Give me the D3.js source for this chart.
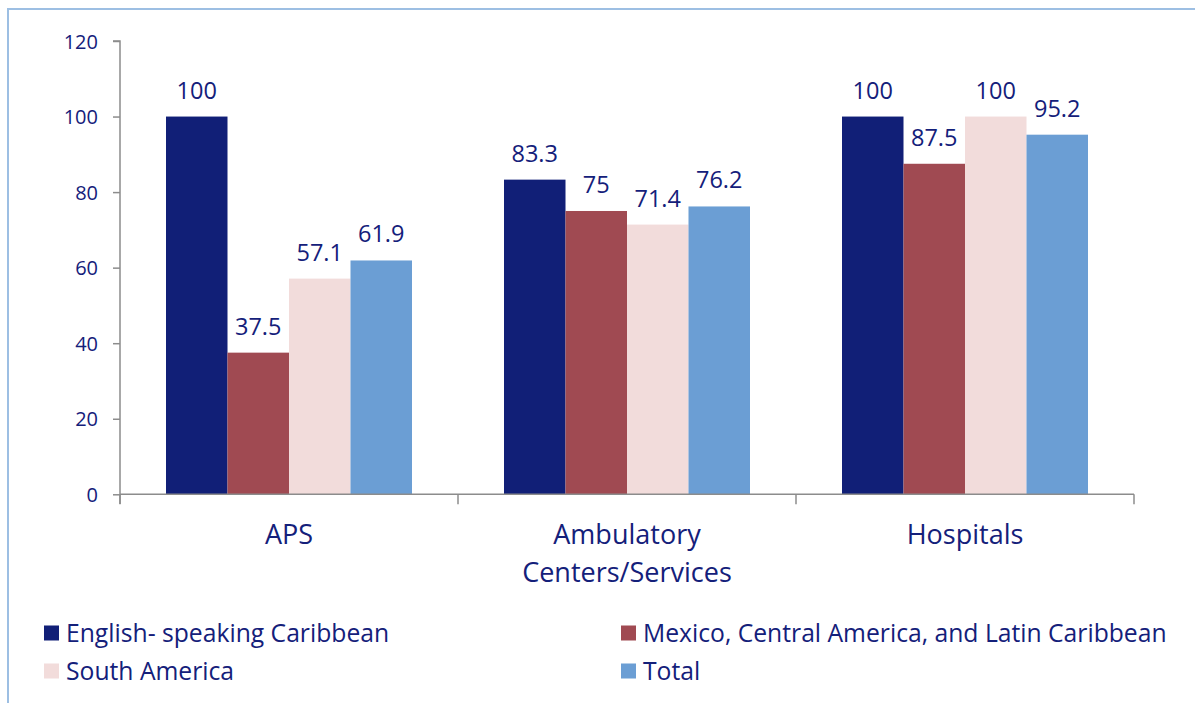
<!DOCTYPE html>
<html><head><meta charset="utf-8">
<script src="https://cdn.jsdelivr.net/npm/d3@7"></script>
<style>
html,body{margin:0;padding:0;background:#fff;}
svg{display:block;}
text{font-family:"Open Sans",sans-serif;fill:#14207a;}
</style></head>
<body>
<svg id="chart" width="1195" height="703"></svg>
<script>
const categories = ["APS", "Ambulatory\nCenters/Services", "Hospitals"];
const seriesNames = ["English- speaking Caribbean", "Mexico, Central America, and Latin Caribbean", "South America", "Total"];
const englishCaribbean = [100, 83.3, 100];
const mexicoCentralLatin = [37.5, 75, 87.5];
const southAmerica = [57.1, 71.4, 100];
const total = [61.9, 76.2, 95.2];
const yTicks = [0, 20, 40, 60, 80, 100, 120];
const colors = ["#111f77", "#a04a52", "#f2dcdb", "#6b9ed4"];

const seriesValues = [englishCaribbean, mexicoCentralLatin, southAmerica, total];
const svg = d3.select("#chart");

// outer border
svg.append("rect").attr("x", 8).attr("y", 9).attr("width", 1200).attr("height", 720)
  .attr("fill", "none").attr("stroke", "#9dbfe3").attr("stroke-width", 2);

const x0 = d3.scaleBand().domain(categories).range([120, 1134]).paddingInner(0).paddingOuter(0);
const x1 = d3.scaleBand().domain(seriesNames).range([46, x0.bandwidth() - 46]);
const y = d3.scaleLinear().domain([0, 120]).range([494.3, 41]);

// y axis
const yAxis = d3.axisLeft(y).tickValues(yTicks).tickSize(7).tickPadding(15);
const gy = svg.append("g").attr("transform", "translate(120,0)").call(yAxis);
gy.select(".domain").attr("stroke", "#8c8c8c").attr("stroke-width", 1.5).attr("d", "M-7,41H0V504");
gy.selectAll(".tick line").attr("stroke", "#8c8c8c").attr("stroke-width", 1.5);
gy.selectAll(".tick text").style("font-size", "20px").style("fill", "#14207a").attr("dy", "0.35em");

// bars
const groups = svg.append("g").selectAll("g").data(categories).join("g")
  .attr("transform", d => `translate(${x0(d)},0)`);
groups.selectAll("rect").data((c, i) => seriesNames.map((s, j) => ({s, j, v: seriesValues[j][i]})))
  .join("rect")
  .attr("x", d => x1(d.s)).attr("width", x1.bandwidth())
  .attr("y", d => y(d.v)).attr("height", d => y(0) - y(d.v))
  .attr("fill", d => colors[d.j]);
groups.selectAll("text.lbl").data((c, i) => seriesNames.map((s, j) => ({s, j, v: seriesValues[j][i]})))
  .join("text").attr("class", "lbl")
  .attr("x", d => x1(d.s) + x1.bandwidth() / 2)
  .attr("y", d => y(d.v) - 18)
  .attr("text-anchor", "middle").style("font-size", "23.5px")
  .text(d => d.v);

// x axis
const xAxis = d3.axisBottom(x0).tickSize(0).tickFormat("");
const gx = svg.append("g").attr("transform", `translate(0,${y(0)})`).call(xAxis);
gx.select(".domain").attr("stroke", "#8c8c8c").attr("stroke-width", 1.5).attr("d", "M120,0H1134");
const bounds = [120, ...categories.map(c => x0(c) + x0.bandwidth())];
gx.selectAll("line.sep").data(bounds).join("line").attr("class", "sep")
  .attr("x1", d => d).attr("x2", d => d).attr("y1", 0).attr("y2", 10)
  .attr("stroke", "#8c8c8c").attr("stroke-width", 1.5);

// category labels
svg.append("g").selectAll("text").data(categories).join("text")
  .attr("text-anchor", "middle").style("font-size", "27px")
  .attr("transform", d => `translate(${x0(d) + x0.bandwidth() / 2},544)`)
  .each(function(d) {
    const lines = d.split("\n");
    d3.select(this).selectAll("tspan").data(lines).join("tspan")
      .attr("x", 0).attr("dy", (l, i) => i === 0 ? 0 : 38).text(l => l);
  });

// legend
const legPos = [[44, 633], [621, 633], [44, 671], [621, 671]];
const leg = svg.append("g").selectAll("g").data(seriesNames).join("g")
  .attr("transform", (d, i) => `translate(${legPos[i][0]},${legPos[i][1]})`);
leg.append("rect").attr("x", 0).attr("y", -7.5).attr("width", 15).attr("height", 15)
  .attr("fill", (d, i) => colors[i]);
leg.append("text").attr("x", 22).attr("y", 0).attr("dy", "0.35em").style("font-size", "24.7px").text(d => d);
</script>
</body></html>
